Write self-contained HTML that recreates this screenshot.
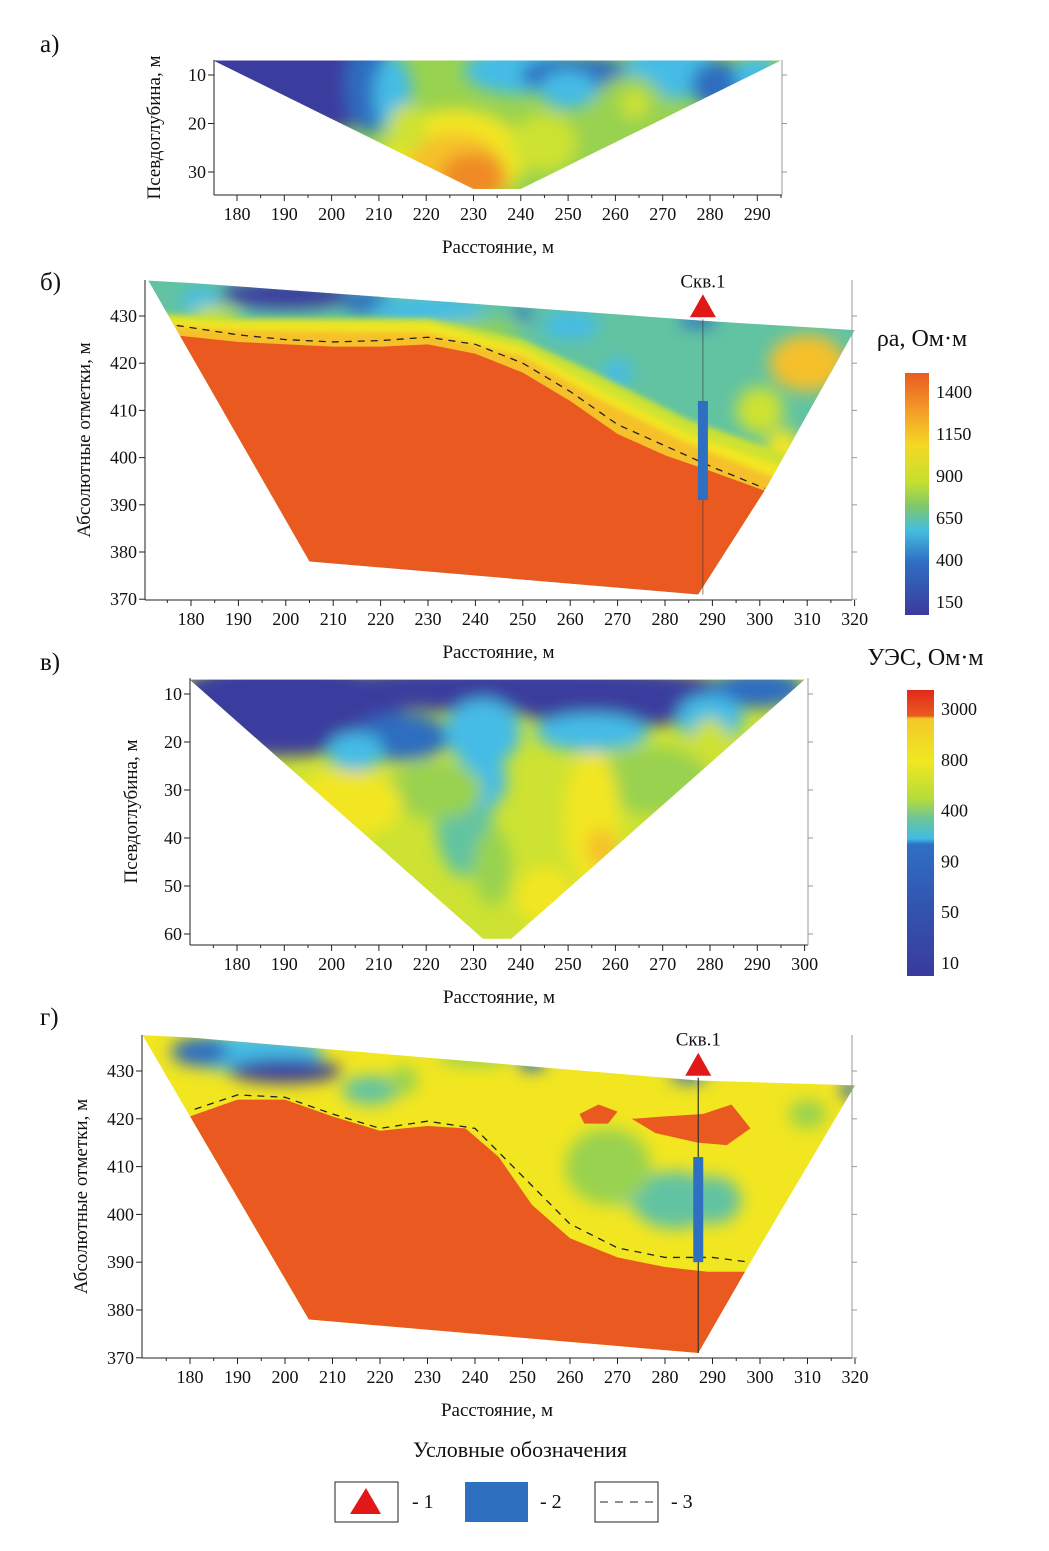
<!DOCTYPE html>
<html><head><meta charset="utf-8"><style>
body{margin:0;background:#fff}
svg{display:block;font-family:"Liberation Serif",serif}
</style></head><body>
<svg id="s" width="1049" height="1551" viewBox="0 0 1049 1551">
<defs>
<filter id="bl" x="-50%" y="-50%" width="200%" height="200%"><feGaussianBlur stdDeviation="8"/></filter>
<filter id="bs" x="-50%" y="-50%" width="200%" height="200%"><feGaussianBlur stdDeviation="3"/></filter>
<linearGradient id="g1" x1="0" y1="0" x2="0" y2="1">
<stop offset="0" stop-color="#ea5a20"/><stop offset="0.15" stop-color="#f39a28"/><stop offset="0.3" stop-color="#f4d824"/><stop offset="0.45" stop-color="#c6df30"/><stop offset="0.55" stop-color="#7ec86a"/><stop offset="0.65" stop-color="#45bde0"/><stop offset="0.78" stop-color="#2f6fc2"/><stop offset="1" stop-color="#3a3b9c"/></linearGradient>
<linearGradient id="g2" x1="0" y1="0" x2="0" y2="1">
<stop offset="0" stop-color="#e02a1a"/><stop offset="0.09" stop-color="#ea5a20"/><stop offset="0.1" stop-color="#f3c82a"/><stop offset="0.25" stop-color="#f0e820"/><stop offset="0.38" stop-color="#b6dc3a"/><stop offset="0.45" stop-color="#6cc49a"/><stop offset="0.52" stop-color="#40bce6"/><stop offset="0.54" stop-color="#2f70c3"/><stop offset="0.75" stop-color="#3255b0"/><stop offset="1" stop-color="#3a3b9c"/></linearGradient>
</defs>
<g id="root"></g>
</svg>
<script>
// ---- data ----
const ticksA_x=[180,190,200,210,220,230,240,250,260,270,280,290];
const ticksA_y=[10,20,30];
const ticksB_x=[180,190,200,210,220,230,240,250,260,270,280,290,300,310,320];
const ticksB_y=[370,380,390,400,410,420,430];
const ticksV_x=[180,190,200,210,220,230,240,250,260,270,280,290,300];
const ticksV_y=[10,20,30,40,50,60];
const ticksG_x=ticksB_x, ticksG_y=ticksB_y;
const wellX=288, wellTop=412, wellBottom=391;
const wellXG=287, wellTopG=412, wellBottomG=390;
const boundaryB_x=[177,190,200,210,220,230,240,250,260,270,280,290,301];
const boundaryB_y=[428,426,425,424.5,424.8,425.5,424,420,414,407,402.5,398,393.5];
const boundaryG_x=[181,190,200,210,220,230,240,250,260,270,280,290,298];
const boundaryG_y=[422,425,424.5,421,418,419.5,418,408,398,393,391,391,390];
const cbarA_labels=["1400","1150","900","650","400","150"];
const cbarV_labels=["3000","800","400","90","50","10"];

const NS="http://www.w3.org/2000/svg";
const root=document.getElementById('root');
function el(tag,attrs,parent){const e=document.createElementNS(NS,tag);for(const k in attrs)e.setAttribute(k,attrs[k]);(parent||root).appendChild(e);return e;}
function txt(x,y,s,size,anchor,parent,rot){const t=el('text',{x:x,y:y,'font-size':size,'text-anchor':anchor||'middle',fill:'#111'},parent);if(rot)t.setAttribute('transform','rotate(-90 '+x+' '+y+')');t.textContent=s;return t;}

function panel(cfg){
  const g=el('g',{});
  
  
  const X=v=>cfg.x0+(v-cfg.xv0)*cfg.kx, Y=v=>cfg.y0+(v-cfg.yv0)*cfg.ky;
  const cid='c'+cfg.name;
  const cp=el('clipPath',{id:cid},g);
  el('polygon',{points:cfg.shape.map(p=>X(p[0])+','+Y(p[1])).join(' ')},cp);
  const fg=el('g',{'clip-path':'url(#'+cid+')'},g);
  el('rect',{x:0,y:0,width:1049,height:1551,fill:cfg.bg},fg);
  const bg=el('g',{filter:'url(#bl)'},fg);
  cfg.blobs.forEach(b=>{el('ellipse',{cx:X(b[0]),cy:Y(b[1]),rx:Math.abs(b[2]*cfg.kx),ry:Math.abs(b[3]*cfg.ky),fill:b[4]},bg);});
  if(cfg.polys){const pg=el('g',{filter:'url(#bs)'},fg);cfg.polys.forEach(p=>{el('polygon',{points:p.pts.map(q=>X(q[0])+','+Y(q[1])).join(' '),fill:p.fill},pg);});}
  if(cfg.sharp){cfg.sharp.forEach(p=>{el('polygon',{points:p.pts.map(q=>X(q[0])+','+Y(q[1])).join(' '),fill:p.fill},fg);});}
  const ax=el('g',{stroke:'#222','stroke-width':1},g);
  el('line',{x1:cfg.left,y1:cfg.bottom,x2:cfg.right,y2:cfg.bottom},ax);
  el('line',{x1:cfg.left,y1:cfg.top,x2:cfg.left,y2:cfg.bottom},ax);
  el('line',{x1:cfg.right,y1:cfg.top,x2:cfg.right,y2:cfg.bottom,stroke:'#999'},ax);
  cfg.tx.forEach(v=>{const x=X(v);el('line',{x1:x,y1:cfg.bottom,x2:x,y2:cfg.bottom+6},ax);
    if(x+cfg.kx*5<cfg.right)el('line',{x1:x+cfg.kx*5,y1:cfg.bottom,x2:x+cfg.kx*5,y2:cfg.bottom+3},ax);
    if(x-cfg.kx*5>cfg.left&&v===cfg.tx[0])el('line',{x1:x-cfg.kx*5,y1:cfg.bottom,x2:x-cfg.kx*5,y2:cfg.bottom+3},ax);
    const t=txt(x,cfg.bottom+25,String(v),18,'middle',g);});
  cfg.ty.forEach(v=>{const y=Y(v);el('line',{x1:cfg.left-6,y1:y,x2:cfg.left,y2:y},ax);el('line',{x1:cfg.right,y1:y,x2:cfg.right+5,y2:y,stroke:'#999'},ax);
    const t=txt(cfg.left-8,y+6,String(v),18,'end',g);});
  const xt=txt((cfg.left+cfg.right)/2,cfg.bottom+58,'Расстояние, м',19,'middle',g);
  
  const yt=txt(cfg.ytx,(cfg.top+cfg.bottom)/2,cfg.ytitle,19,'middle',g,true);
  
  const lt=txt(cfg.labx,cfg.laby,cfg.label,25,'start',g);
  
  return {g,X,Y};
}

const DB='#3a3d9e',BL='#2f6dc0',LB='#45bce6',CG='#62c3a2',GR='#98d250',YG='#cde232',YE='#f2e620',YO='#f5c02a',OR='#f08a26',RO='#ea5a20';

// panel a
panel({name:'panel-a',x0:237,xv0:180,kx:4.73,y0:75,yv0:10,ky:4.85,left:214,right:782,top:60,bottom:195,
  tx:ticksA_x,ty:ticksA_y,ytitle:'Псевдоглубина, м',ytx:160,label:'а)',labx:40,laby:52,bg:GR,
  shape:[[175,7],[295,7],[240,33.5],[230,33.5]],
  blobs:[[190,11,24,12,DB],[208,12,5,10,BL],[213,14,4,8,LB],[240,9,12,5,LB],[252,10,12,4,BL],[250,13,6,4,LB],
         [272,9,10,6,LB],[282,12,6,5,BL],[290,10,5,4,LB],[263,18,8,8,GR],[264,16,3,3,YG],
         [226,27,15,10,YE],[226,29,10,7,YO],[230,31,7,5,OR],[245,24,7,6,YG],[216,21,4,5,YG]]});

// panel b
const pb=panel({name:'panel-b',x0:191,xv0:180,kx:4.74,y0:316,yv0:430,ky:-4.72,left:145,right:852,top:280,bottom:600,
  tx:ticksB_x,ty:ticksB_y,ytitle:'Абсолютные отметки, м',ytx:90,label:'б)',labx:40,laby:290,bg:CG,
  shape:[[171,437.5],[180,437],[288,429],[320,427],[301,393],[287,371],[205,378]],
  blobs:[[200,434.5,14,3,DB],[217,433,5,2.5,BL],[250,430.5,2,1.5,BL],[230,431,12,3,LB],[270,418,3,3,LB],[287,429,4,1.5,BL],
         [310,420,8,6,YO],[300,410,5,5,YG],[305,401,4,5,YE],[182,433,4,3,LB],[260,428,6,3,LB],[240,427,10,2,GR],[185,430,5,2,YG]],
  polys:[{fill:YG,pts:[[165,431],[190,429.5],[230,429.5],[250,425],[265,418],[285,408],[305,401],[320,394],[320,380],[160,380]]},
         {fill:YE,pts:[[165,430],[190,428.5],[230,428.5],[250,423],[265,415],[285,405],[305,398],[320,392],[320,380],[160,380]]},
         {fill:YO,pts:[[165,428.5],[190,427],[230,426.5],[250,421.5],[265,413],[285,403],[305,395],[320,389],[320,380],[160,380]]}],
  sharp:[{fill:RO,pts:[[176,426],[190,424.5],[210,423.5],[220,423.5],[230,424],[240,422],[250,418],[260,412],[270,405],[280,400.5],[290,397],[301,393],[287,371],[205,378]]}]});

// panel v
panel({name:'panel-v',x0:237,xv0:180,kx:4.73,y0:694,yv0:10,ky:4.8,left:190,right:808,top:678,bottom:945,
  tx:ticksV_x,ty:ticksV_y,ytitle:'Псевдоглубина, м',ytx:137,label:'в)',labx:40,laby:670,bg:YG,
  shape:[[170,7],[300,7],[238,61],[232,61]],
  blobs:[[190,13,25,10,DB],[240,9,45,5,DB],[260,12,22,5,DB],[290,9,10,4,BL],[215,19,10,5,BL],[232,18,8,7,LB],[205,22,6,4,LB],[255,18,12,4,LB],[280,15,7,5,LB],
         [228,36,6,12,CG],[232,28,5,6,LB],[234,46,4,8,GR],[222,30,10,6,GR],[268,28,12,7,GR],[280,20,4,5,YG],[255,36,6,14,YE],[203,33,12,7,YE],
         [257,42,3,4,YO],[245,52,6,6,YE]]});

// panel g
const pg=panel({name:'panel-g',x0:190,xv0:180,kx:4.75,y0:1071,yv0:430,ky:-4.78,left:142,right:852,top:1035,bottom:1358,
  tx:ticksG_x,ty:ticksG_y,ytitle:'Абсолютные отметки, м',ytx:87,label:'г)',labx:40,laby:1025,bg:YE,
  shape:[[170,437.5],[180,437],[287,428],[320,427],[298,390],[287,371],[205,378]],
  blobs:[[192,434,16,4,LB],[200,430,12,2.5,DB],[182,434,6,3,BL],[218,426,6,3,CG],[270,408,7,6,LB],[282,403,9,6,CG],[290,403,6,5,CG],
         [268,410,9,8,GR],[252,432,3,2,BL],[285,429,4,1.5,BL],[319,426,2,2,BL],[310,421,4,3,GR],[240,433,8,2,GR],[225,428,3,3,GR]],
  sharp:[{fill:RO,pts:[[262,421],[266,423],[270,421.5],[268,419],[263,419]]},
         {fill:RO,pts:[[273,420],[280,420.5],[288,421],[294,423],[298,418],[293,414.5],[287,415],[278,417]]},
         {fill:RO,pts:[[180,420.5],[190,424],[200,424],[210,420.5],[220,417.5],[230,418.5],[238,418],[245,412],[252,402],[260,395],[270,391],[280,389],[289,388],[298,388],[287,371],[205,378]]}]});

function dashed(p,xs,ys,name){const pl=el('polyline',{points:xs.map((v,i)=>p.X(v)+','+p.Y(ys[i])).join(' '),fill:'none',stroke:'#222','stroke-width':1.3,'stroke-dasharray':'7 6'});
  }
dashed(pb,boundaryB_x,boundaryB_y,'boundary-line-b');
dashed(pg,boundaryG_x,boundaryG_y,'boundary-line-g');

function well(p,x,top,bot,surf,name,lw){
  const g=el('g',{});
  const px=p.X(x);
  el('line',{x1:px,y1:p.Y(surf),x2:px,y2:p.Y(371),stroke:'#333','stroke-width':lw},g);
  el('rect',{x:px-5,y:p.Y(top),width:10,height:p.Y(bot)-p.Y(top),fill:'#2f6fc0'},g);
  el('polygon',{points:(px-13)+','+(p.Y(surf)-2)+' '+(px+13)+','+(p.Y(surf)-2)+' '+px+','+(p.Y(surf)-25),fill:'#e01818'},g);
  txt(px,p.Y(surf)-32,'Скв.1',19,'middle',g);
}
well(pb,wellX,wellTop,wellBottom,429.3,'well-b',0.6);
well(pg,wellXG,wellTopG,wellBottomG,428.6,'well-g',1.2);

function cbar(x,y,w,h,fill,labels,title,ty,name){
  const g=el('g',{});
  el('rect',{x:x,y:y,width:w,height:h,fill:fill},g);
  txt(x+w/2+5,ty,title,24,'middle',g);
  labels.forEach((l,i)=>{txt(x+w+7,y+25+i*(h-32)/(labels.length-1),l,18,'start',g);});
}
cbar(905,373,24,242,'url(#g1)',cbarA_labels,'ρa, Ом·м',346,'colorbar-rho');
cbar(907,690,27,286,'url(#g2)',cbarV_labels,'УЭС, Ом·м',665,'colorbar-ues');

const lg=el('g',{});
txt(520,1457,'Условные обозначения',22,'middle',lg);
el('rect',{x:335,y:1482,width:63,height:40,fill:'#fff',stroke:'#222'},lg);
el('polygon',{points:'350,1514 381,1514 366,1488',fill:'#e01818'},lg);
txt(412,1508,'- 1',20,'start',lg);
el('rect',{x:465,y:1482,width:63,height:40,fill:'#2f6fc0'},lg);
txt(540,1508,'- 2',20,'start',lg);
el('rect',{x:595,y:1482,width:63,height:40,fill:'#fff',stroke:'#222'},lg);
el('line',{x1:600,y1:1502,x2:655,y2:1502,stroke:'#222','stroke-dasharray':'8 7'},lg);
txt(671,1508,'- 3',20,'start',lg);
</script>
</body></html>
